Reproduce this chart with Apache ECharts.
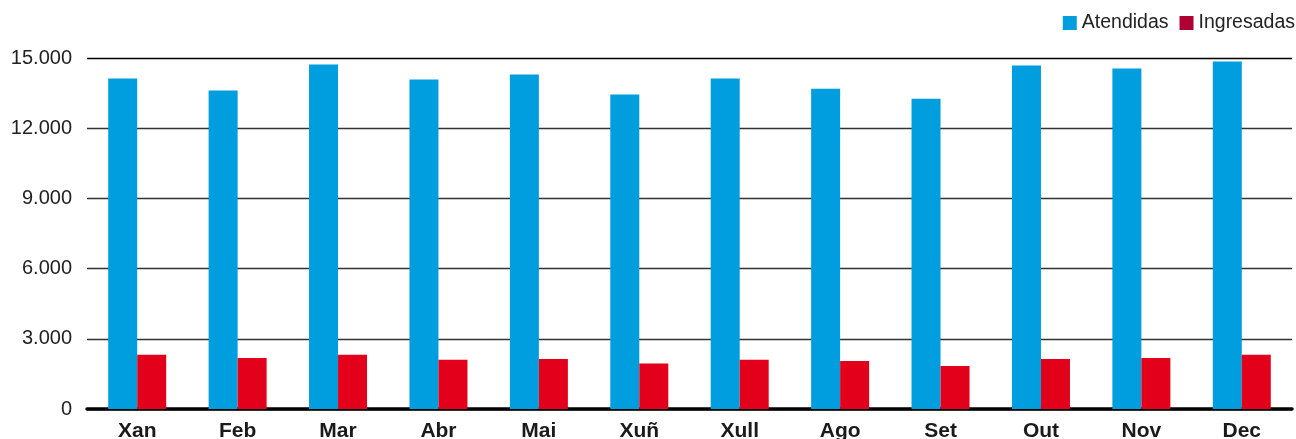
<!DOCTYPE html>
<html>
<head>
<meta charset="utf-8">
<script src="https://cdn.jsdelivr.net/npm/echarts@6/dist/echarts.min.js"></script>
<style>
html,body{margin:0;padding:0;background:#fff;}
#chart{width:1296px;height:439px;}
</style>
</head>
<body>
<div id="chart"></div>
<script>
const categories = ['Xan','Feb','Mar','Abr','Mai','Xuñ','Xull','Ago','Set','Out','Nov','Dec'];
const atendidas = [14120,13610,14720,14080,14290,13440,14120,13690,13260,14680,14550,14850];
const ingresadas = [2320,2180,2320,2100,2140,1940,2100,2050,1840,2140,2180,2320];
const yTicks = {min:0, max:15000, interval:3000};

const font = 'Liberation Sans, Arial, Helvetica, sans-serif';
const chart = echarts.init(document.getElementById('chart'), null, {renderer:'canvas'});
chart.setOption({
  animation:false,
  backgroundColor:'#fff',
  textStyle:{fontFamily:font},
  legend:{
    right:-4, top:8, itemWidth:14, itemHeight:14, itemGap:11,
    icon:'rect',
    textStyle:{fontSize:19.5, color:'#222', fontFamily:font},
    data:[
      {name:'Atendidas', itemStyle:{color:'#009ddf'}},
      {name:'Ingresadas', itemStyle:{color:'#b10034'}}
    ]
  },
  grid:{left:87, right:4, top:58, bottom:30, containLabel:false, outerBoundsMode:'none'},
  xAxis:{
    type:'category', data:categories,
    axisLine:{show:true, lineStyle:{color:'#000', width:3.5}},
    axisTick:{show:false},
    axisLabel:{fontSize:21, fontWeight:'bold', color:'#1a1a1a', margin:12, fontFamily:font}
  },
  yAxis:{
    type:'value', min:yTicks.min, max:yTicks.max, interval:yTicks.interval,
    axisLine:{show:false}, axisTick:{show:false},
    axisLabel:{fontSize:20, color:'#222', margin:15, fontFamily:font,
      formatter:function(v){return v.toString().replace(/\B(?=(\d{3})+(?!\d))/g,'.');}},
    splitLine:{lineStyle:{color:['#000','#333','#333','#333','#333','#000'], width:1.3}}
  },
  series:[
    {name:'Atendidas', type:'bar', data:atendidas, barWidth:29, barGap:'0%',
     itemStyle:{color:'#009ddf'}},
    {name:'Ingresadas', type:'bar', data:ingresadas, barWidth:29, barGap:'0%',
     itemStyle:{color:'#e2001a'}}
  ]
});
</script>
</body>
</html>
